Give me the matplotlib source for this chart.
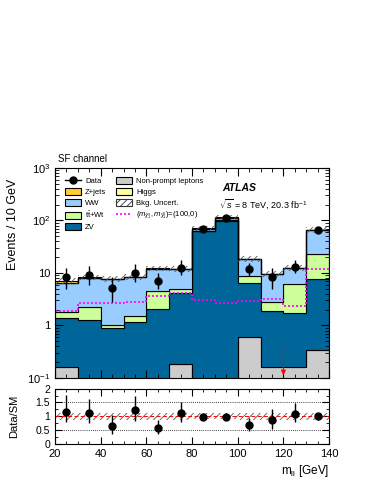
import numpy as np
import matplotlib
matplotlib.use('Agg')
import matplotlib.pyplot as plt
from matplotlib.lines import Line2D
from matplotlib.patches import Patch
from matplotlib.ticker import FixedLocator, MultipleLocator, NullFormatter

plt.rcParams['font.family'] = ['Liberation Sans', 'DejaVu Sans']
plt.rcParams['mathtext.fontset'] = 'custom'
plt.rcParams['mathtext.rm'] = 'Liberation Sans'
plt.rcParams['mathtext.it'] = 'Liberation Sans:italic'
plt.rcParams['mathtext.bf'] = 'Liberation Sans:bold'
plt.rcParams['hatch.linewidth'] = 0.6

# bins in m_ll [GeV]
edges = [20, 30, 40, 50, 60, 70, 80, 90, 100, 110, 120, 130, 140]
centers = [25, 35, 45, 55, 65, 75, 85, 95, 105, 115, 125, 135]

# backgrounds (stacked from bottom)
nonprompt = [0.164, 0.05, 0.05, 0.05, 0.05, 0.185, 0.05, 0.05, 0.61, 0.158, 0.158, 0.34]
zv = [1.25, 1.22, 0.835, 1.13, 1.98, 4.0, 62.0, 99.0, 5.8, 1.73, 1.6, 7.26]
ttbar = [0.37, 1.01, 0.115, 0.36, 2.57, 0.76, 1.0, 2.0, 2.5, 0.95, 4.45, 15.1]
ww = [4.57, 5.72, 6.7, 6.76, 7.4, 6.84, 6.0, 10.0, 9.4, 6.66, 6.3, 43.3]
higgs = [0.05, 0.05, 0.05, 0.05, 0.1, 0.1, 0.5, 1.0, 0.3, 0.1, 0.1, 0.5]
zjets = [0.7, 0.3, 0.05, 0.1, 0.1, 0.1, 1.5, 6.0, 0.1, 0.05, 0.05, 0.2]
bkg_unc = [0.12, 0.12, 0.12, 0.12, 0.12, 0.12, 0.10, 0.10, 0.12, 0.12, 0.12, 0.12]

signal = [1.9, 2.7, 2.65, 2.85, 3.65, 4.1, 3.05, 2.65, 2.95, 3.2, 2.3, 12.0]

data = [8.3, 9.2, 5.1, 9.9, 7.1, 12.6, 68, 110, 12, 8.3, 13, 65]
data_lo = [4.9, 5.9, 2.85, 6.8, 4.9, 9.2, 60, 100, 8.8, 4.9, 9.9, 57]
data_hi = [12.3, 13.8, 8.5, 14.6, 10.1, 17.7, 77, 121, 15.3, 12.3, 17.7, 74]

ratio = [1.17, 1.10, 0.63, 1.22, 0.57, 1.10, 0.98, 0.96, 0.67, 0.85, 1.07, 1.0]
ratio_lo = [0.78, 0.76, 0.37, 0.84, 0.37, 0.78, 0.86, 0.87, 0.48, 0.54, 0.78, 0.88]
ratio_hi = [1.76, 1.61, 1.06, 1.73, 0.85, 1.51, 1.10, 1.05, 0.93, 1.27, 1.49, 1.12]

fig = plt.figure(figsize=(3.74, 4.84), dpi=100)
ax = fig.add_axes([0.147, 0.219, 0.733, 0.434])
ax2 = fig.add_axes([0.147, 0.083, 0.733, 0.114])

layers = [
    (nonprompt, '#cccccc', 'Non-prompt leptons'),
    (zv, '#006699', 'ZV'),
    (ttbar, '#ccff99', r'$\mathrm{t\bar{t}}$+Wt'),
    (ww, '#99ccff', 'WW'),
    (higgs, '#ffff99', 'Higgs'),
    (zjets, '#ffcc33', 'Z+jets'),
]

handles = {}
bottom = np.full(12, 1e-3)
for vals, col, lab in layers:
    top = bottom + np.array(vals)
    h = ax.stairs(top, edges, baseline=bottom, fill=True, facecolor=col,
                  edgecolor='black', linewidth=0.8, label=lab)
    handles[lab] = h
    bottom = top
total = bottom

unc = np.array(bkg_unc) * total
ax.stairs(total + unc, edges, baseline=total - unc, fill=True, facecolor='none',
          edgecolor='#555555', hatch='/////', linewidth=0)
handles['Bkg. Uncert.'] = Patch(facecolor='white', edgecolor='#333333',
                                hatch='/////', linewidth=0.8)

sig, = ax.step(edges, signal + [signal[-1]], where='post', color='magenta',
               linestyle=(0, (1.2, 1.2)), linewidth=1.2)
handles['sig'] = sig

yerr = [np.array(data) - np.array(data_lo), np.array(data_hi) - np.array(data)]
ax.errorbar(centers, data, yerr=yerr, fmt='o', color='black', markersize=5,
            elinewidth=1, capsize=0)
handles['Data'] = Line2D([], [], color='black', marker='o', markersize=5, linewidth=1)

ax.annotate('', xy=(120, 0.1), xytext=(120, 0.5),
            arrowprops=dict(arrowstyle='-|>', color='red', lw=0.8, mutation_scale=7))

ax.set_yscale('log')
ax.set_xlim(20, 140)
ax.set_ylim(0.1, 1000)
ax.yaxis.set_major_locator(FixedLocator([0.1, 1, 10, 100, 1000]))
ax.set_yticklabels(['10$^{-1}$', '1', '10', '10$^{2}$', '10$^{3}$'])
ax.yaxis.set_minor_formatter(NullFormatter())
ax.xaxis.set_major_locator(MultipleLocator(20))
ax.xaxis.set_minor_locator(MultipleLocator(5))
ax.set_xticklabels([])
ax.tick_params(which='both', direction='in', top=True, right=True, labelsize=8)
ax.tick_params(which='major', length=6)
ax.tick_params(which='minor', length=3)
ax.set_ylabel('Events / 10 GeV', fontsize=9, loc='top')

order = ['Data', 'Z+jets', 'WW', r'$\mathrm{t\bar{t}}$+Wt', 'ZV',
         'Non-prompt leptons', 'Higgs', 'Bkg. Uncert.', 'sig']
labels = ['Data', 'Z+jets', 'WW', r'$\mathrm{t\bar{t}}$+Wt', 'ZV',
          'Non-prompt leptons', 'Higgs', 'Bkg. Uncert.',
          r'$(m_{\tilde{\chi}_1^{\pm}}, m_{\tilde{\chi}_1^{0}})$=(100,0)']
ax.legend([handles[k] for k in order], labels, ncol=2, loc='upper left',
          bbox_to_anchor=(0.01, 0.99), frameon=False, fontsize=5.5,
          handlelength=2.2, handleheight=1.1, labelspacing=0.35,
          columnspacing=1.2, handletextpad=0.5)

ax.text(0.61, 0.89, 'ATLAS', transform=ax.transAxes, fontsize=7.5,
        fontweight='bold', fontstyle='italic')
ax.text(0.60, 0.81, r'$\sqrt{s}$ = 8 TeV, 20.3 fb$^{-1}$', transform=ax.transAxes,
        fontsize=6.5)
ax.text(0.01, 1.03, 'SF channel', transform=ax.transAxes, fontsize=7)

# ratio panel
ax2.stairs(1 + np.array(bkg_unc), edges, baseline=1 - np.array(bkg_unc), fill=True,
           facecolor='none', edgecolor='#555555', hatch='/////', linewidth=0)
ax2.axhline(1, color='red', linestyle=(0, (4, 2.5)), linewidth=0.7)
for yl in [0.5, 1.5]:
    ax2.axhline(yl, color='black', linestyle=(0, (1, 1.5)), linewidth=0.6)
rerr = [np.array(ratio) - np.array(ratio_lo), np.array(ratio_hi) - np.array(ratio)]
ax2.errorbar(centers, ratio, yerr=rerr, fmt='o', color='black', markersize=5,
             elinewidth=1, capsize=0)
ax2.set_xlim(20, 140)
ax2.set_ylim(0, 2)
ax2.set_yticks([0, 0.5, 1, 1.5, 2])
ax2.set_yticklabels(['0', '0.5', '1', '1.5', '2'])
ax2.xaxis.set_major_locator(MultipleLocator(20))
ax2.xaxis.set_minor_locator(MultipleLocator(5))
ax2.yaxis.set_minor_locator(MultipleLocator(0.25))
ax2.tick_params(which='both', direction='in', top=True, right=True, labelsize=8)
ax2.tick_params(axis='y', labelsize=7.5)
ax2.tick_params(which='major', length=5)
ax2.tick_params(which='minor', length=2.5)
ax2.set_ylabel('Data/SM', fontsize=8)
ax2.set_xlabel(r'm$_{\mathrm{ll}}$ [GeV]', fontsize=8.5, loc='right', labelpad=3)
ax2.yaxis.set_label_coords(-0.13, 0.5)
ax.yaxis.set_label_coords(-0.13, 0.95)

fig.savefig('out.png', dpi=100)
